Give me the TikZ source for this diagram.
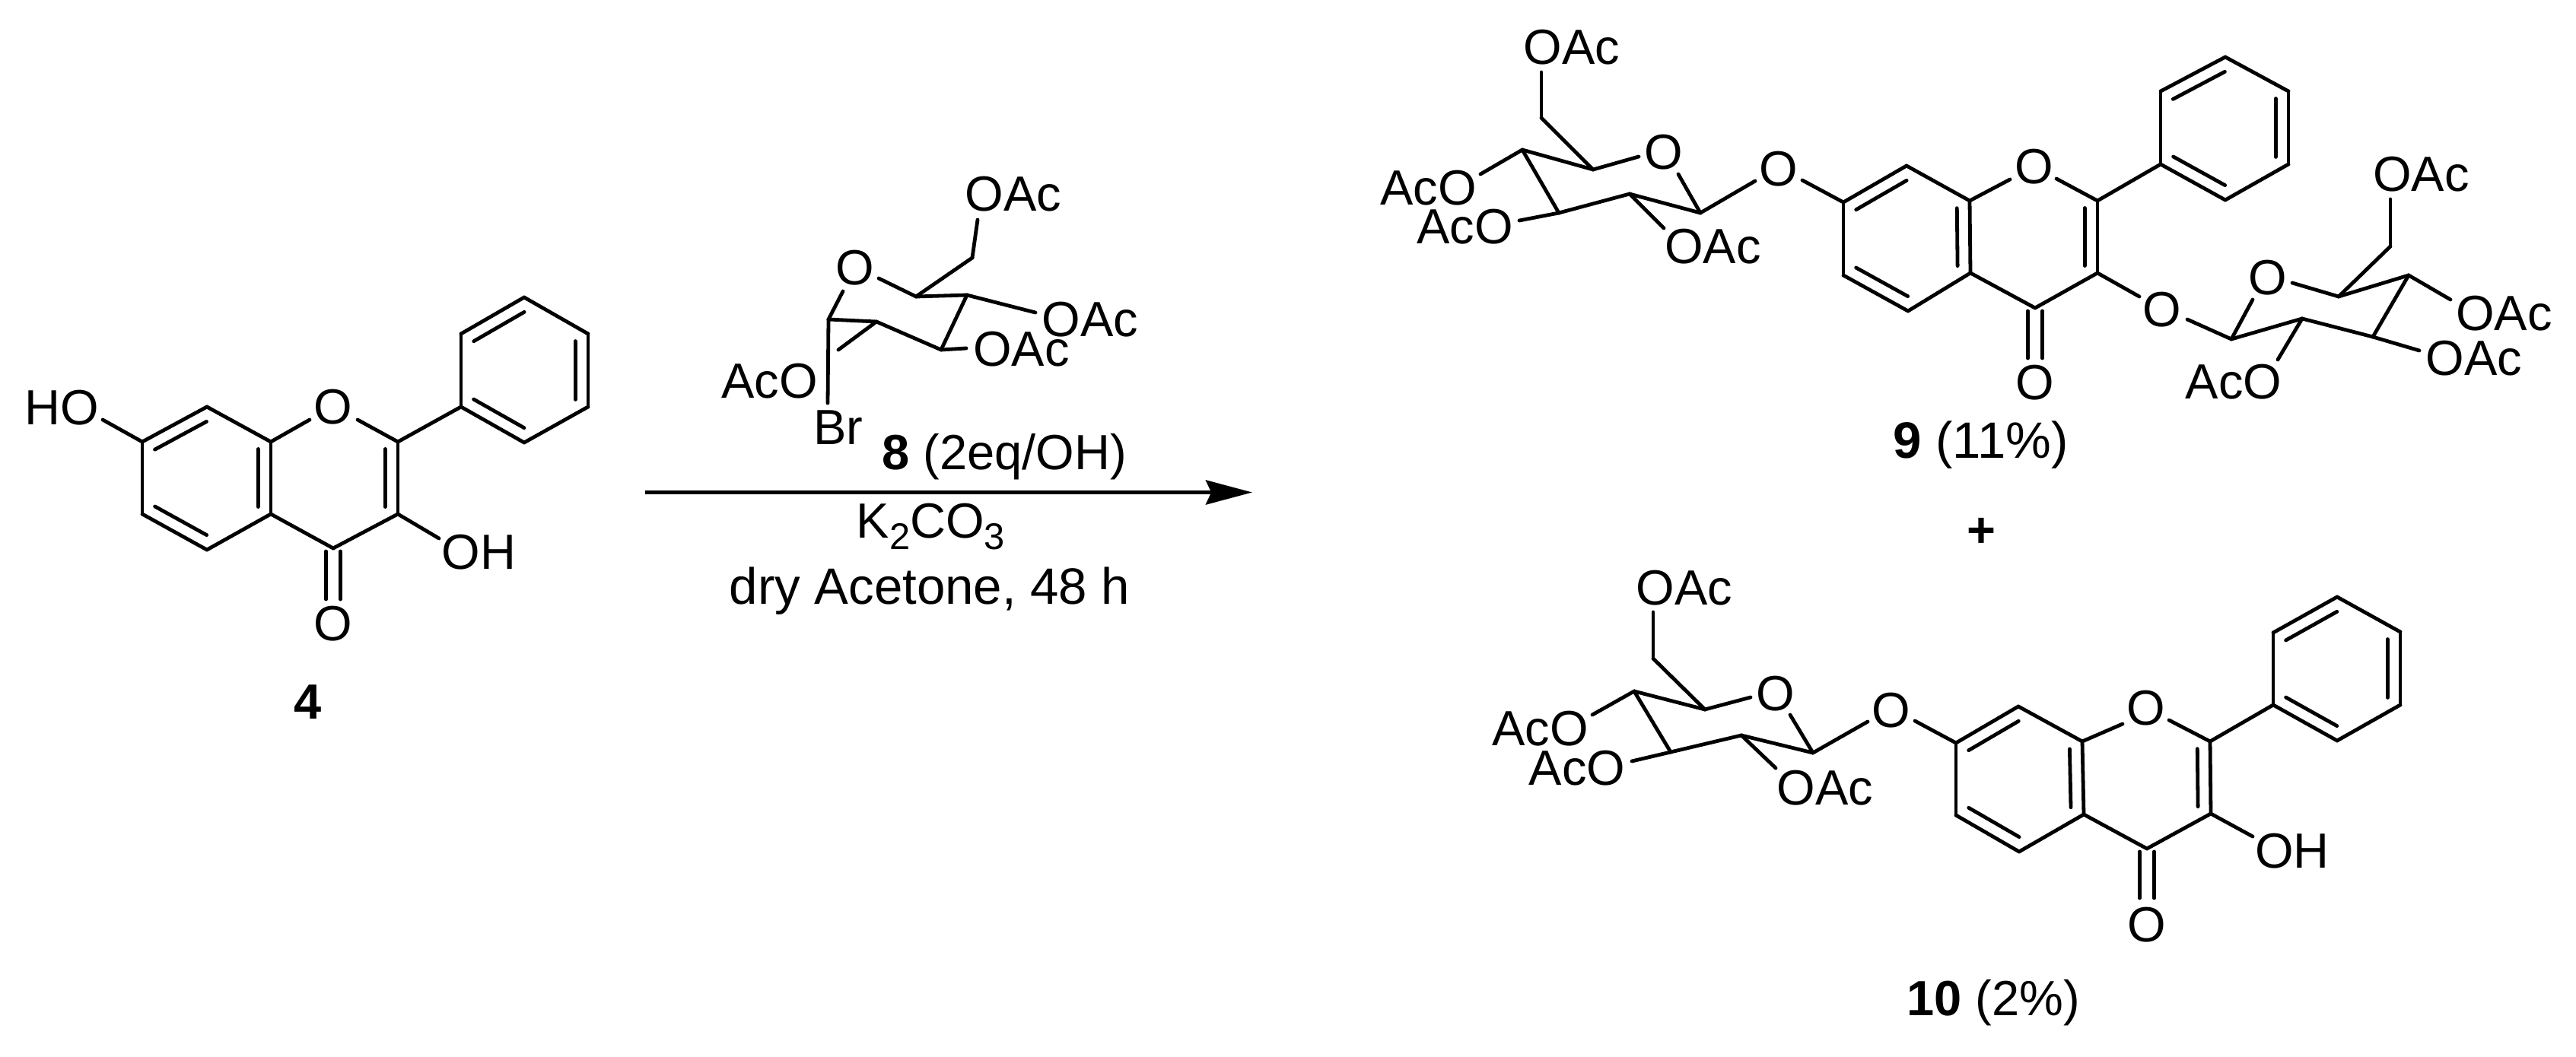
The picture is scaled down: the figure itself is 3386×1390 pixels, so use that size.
\documentclass[tikz,border=0pt]{standalone}
\usepackage{fontspec}
\setmainfont{Liberation Sans}
\usetikzlibrary{calc,arrows.meta}
\tikzset{
  bond/.style={line width=1.2pt,line cap=round,line join=round,black},
  lbl/.style={anchor=base,inner sep=0pt,font=\fontsize{16.25}{18}\selectfont,text=black},
  widelbl/.style={lbl,font=\fontsize{16.8}{18}\selectfont}
}
\newcommand{\subnum}[1]{\raisebox{-3.7pt}{\fontsize{12.2}{12}\selectfont #1}}
\newcommand{\atoms}[1]{\foreach \n/\x/\y in {#1} {\coordinate (\n) at (\x,\y);}}
\newcommand{\bonds}[1]{\foreach \a/\b in {#1} {\draw[bond] (\a)--(\b);}}
\newcommand{\dbonds}[1]{\foreach \a/\b in {#1} {\draw[bond] (\a)--(\b);
  \draw[bond] ($(\a)!.10!(\b)!4.2pt!-90:(\b)$) -- ($(\b)!.10!(\a)!4.2pt!90:(\a)$);}}
\newcommand{\cobond}[2]{\draw[bond] ([xshift=-2.4pt,yshift=-1pt]#1)--([xshift=-2.4pt]#2);
  \draw[bond] ([xshift=2.4pt,yshift=-1pt]#1)--([xshift=2.4pt]#2);}
\begin{document}
\begin{tikzpicture}[x=0.25pt,y=-0.25pt]
\useasboundingbox (0,0) rectangle (3386,1390);
\fill[white] (0,0) rectangle (3386,1390);
% ---- compound 4
\atoms{a7/187/581,a8/272/535,a8a/356/581,a2/523/581,a3/523/676,a4/438/721,a4a/356/676,a5/272/723,a6/187/676,
  p1/606/535,p2/606/439,p3/689/391,p4/773/439,p5/773/535,p6/689/582,
  aHO/135/552,aO1l/407/552,aO1r/470/552,aOH/577/708,aOe/438/788}
\node[lbl] (HOa) at (81,559) {HO};
\node[lbl] (O1a) at (438,558) {O};
\node[lbl] (OHa) at (629.5,748) {OH};
\node[lbl] (Oa) at (438,843) {O};
\node[lbl] (n4) at (405,946) {\textbf{4}};
\bonds{aHO/a7,a8/a8a,a8a/aO1l,aO1r/a2,a2/p1,a3/aOH,a3/a4,a4/a4a,a4a/a5,a6/a7,p1/p2,p3/p4,p5/p6}
\dbonds{a7/a8,a8a/a4a,a5/a6,a2/a3,p2/p3,p4/p5,p6/p1}
\cobond{a4}{aOe}
% ---- sugar 8 and arrow
\atoms{s6/1278/339,s6e/1285/289,s5/1204/390,sOr/1155/366,sOl/1108/383,s4/1271/388,s4e/1361/411,s3/1237/460,s3e/1270/458,
  s2/1152/423,s2e/1102/460,s1/1089/420,sBr/1088/530,arrS/848/647.5,arrE/1646/647.5}
\node[lbl] (s8a) at (1332,278) {OAc};
\node[lbl] (s8b) at (1433,443) {OAc};
\node[lbl] (s8c) at (1342.5,482) {OAc};
\node[lbl] (s8d) at (1011.5,524) {AcO};
\node[lbl] (s8O) at (1123.5,375) {O};
\node[lbl] (s8Br) at (1101.5,585) {Br};
\node[lbl] (r1) at (1320,618) {\textbf{8} (2eq/OH)};
\node[lbl] (r2) at (1223.5,708) {K\subnum{2}CO\subnum{3}};
\node[widelbl] (r3) at (1222,795) {dry Acetone, 48 h};
\bonds{s6e/s6,s6/s5,s5/sOr,sOl/s1,s5/s4,s4/s4e,s4/s3,s3/s3e,s3/s2,s2/s2e,s2/s1,s1/sBr}
\draw[line width=1.25pt,black,-{Stealth[length=15.25pt,width=8pt,inset=1.8pt]}] (arrS)--(arrE);
% ---- compound 9
\atoms{b7/2423/266,b8/2506/218,b8a/2589/264,b2/2757/264,b3/2757/359,b4/2675/405,b4a/2590/359,b5/2508/409,b6/2423/362,
  q1/2840/216,q2/2840/120,q3/2925/75,q4/3008/120,q5/3008/216,q6/2925/263,
  bO1l/2642/236,bO1r/2703/235,bOe/2675/471,
  bOl/2369/237,bOll/2307/238,bO3a/2812/390,bO3b/2875/420,
  u6e/2026/95,u6/2026/155,u5/2094/223,uOl/2154/206,uOr/2206/229,u4/2001/197,u4e/1946/229,u3/2049/280,u3e/1997/290,
  u2/2142/255,u2e/2187/300,u1/2235/280,
  v1/2933/446,v2/3026/419,vOa/2961/394,vOb/3013/372,v5/3074/390,v6/3142/324,v6e/3142/262,v4/3166/362,v4e/3221/394,
  v3/3119/443,v3e/3180/461,v2e/2994/473}
\node[lbl] (b9a) at (2066,85) {OAc};
\node[lbl] (b9b) at (1877.5,270) {AcO};
\node[lbl] (b9c) at (1925.5,321) {AcO};
\node[lbl] (b9d) at (2251.5,347) {OAc};
\node[lbl] (b9O) at (2187,223) {O};
\node[lbl] (b9L) at (2338,245) {O};
\node[lbl] (b9O1) at (2674,242) {O};
\node[lbl] (b9Oe) at (2675,526) {O};
\node[lbl] (b9O3) at (2841.5,430) {O};
\node[lbl] (b9Ov) at (2980.5,388) {O};
\node[lbl] (b9e) at (3182.5,252) {OAc};
\node[lbl] (b9f) at (3291.5,435) {OAc};
\node[lbl] (b9g) at (3252,494) {OAc};
\node[lbl] (b9h) at (2936,525) {AcO};
\node[widelbl] (n9) at (2603.5,603) {\textbf{9} (11\%)};
\node[lbl] (plus) at (2604,719) {\textbf{+}};
\bonds{bOl/b7,b8/b8a,b8a/bO1l,bO1r/b2,b2/q1,b3/bO3a,b3/b4,b4/b4a,b4a/b5,b6/b7,q1/q2,q3/q4,q5/q6,
  u6e/u6,u6/u5,u5/uOl,uOr/u1,u5/u4,u4/u4e,u4/u3,u3/u3e,u3/u2,u2/u2e,u2/u1,u1/bOll,
  bO3b/v1,v1/v2,v1/vOa,vOb/v5,v5/v6,v6/v6e,v5/v4,v4/v4e,v4/v3,v3/v3e,v3/v2,v2/v2e}
\dbonds{b7/b8,b8a/b4a,b5/b6,b2/b3,q2/q3,q4/q5,q6/q1}
\cobond{b4}{bOe}
% ---- compound 10
\atoms{c7/2571/977,c8/2653/929,c8a/2737/975,c2/2905/975,c3/2906/1070,c4/2822/1116,c4a/2739/1071,c5/2654/1120,c6/2571/1072,
  r1/2988/927,r2/2988/832,r3/3072/785,r4/3155/831,r5/3155/927,r6/3072/974,
  cO1l/2790/952,cO1r/2851/947,cOe/2822/1181,cOH/2961/1100,
  cOl/2517/948,cOll/2455/949,
  w6e/2173/805,w6/2173/866,w5/2241/933,wOl/2301/917,wOr/2353/940,w4/2148/909,w4e/2093/940,w3/2196/989,w3e/2145/1001,
  w2/2289/967,w2e/2334/1010,w1/2383/990}
\node[lbl] (c10a) at (2214,796) {OAc};
\node[lbl] (c10b) at (2024.5,980) {AcO};
\node[lbl] (c10c) at (2073,1032) {AcO};
\node[lbl] (c10d) at (2399,1058) {OAc};
\node[lbl] (c10O) at (2334,934) {O};
\node[lbl] (c10L) at (2486,956) {O};
\node[lbl] (c10O1) at (2821,953) {O};
\node[lbl] (c10Oe) at (2822,1238) {O};
\node[lbl] (c10OH) at (3013,1141) {OH};
\node[lbl] (n10) at (2620,1335) {\textbf{10} (2\%)};
\bonds{cOl/c7,c8/c8a,c8a/cO1l,cO1r/c2,c2/r1,c3/cOH,c3/c4,c4/c4a,c4a/c5,c6/c7,r1/r2,r3/r4,r5/r6,
  w6e/w6,w6/w5,w5/wOl,wOr/w1,w5/w4,w4/w4e,w4/w3,w3/w3e,w3/w2,w2/w2e,w2/w1,w1/cOll}
\dbonds{c7/c8,c8a/c4a,c5/c6,c2/c3,r2/r3,r4/r5,r6/r1}
\cobond{c4}{cOe}
\end{tikzpicture}
\end{document}
